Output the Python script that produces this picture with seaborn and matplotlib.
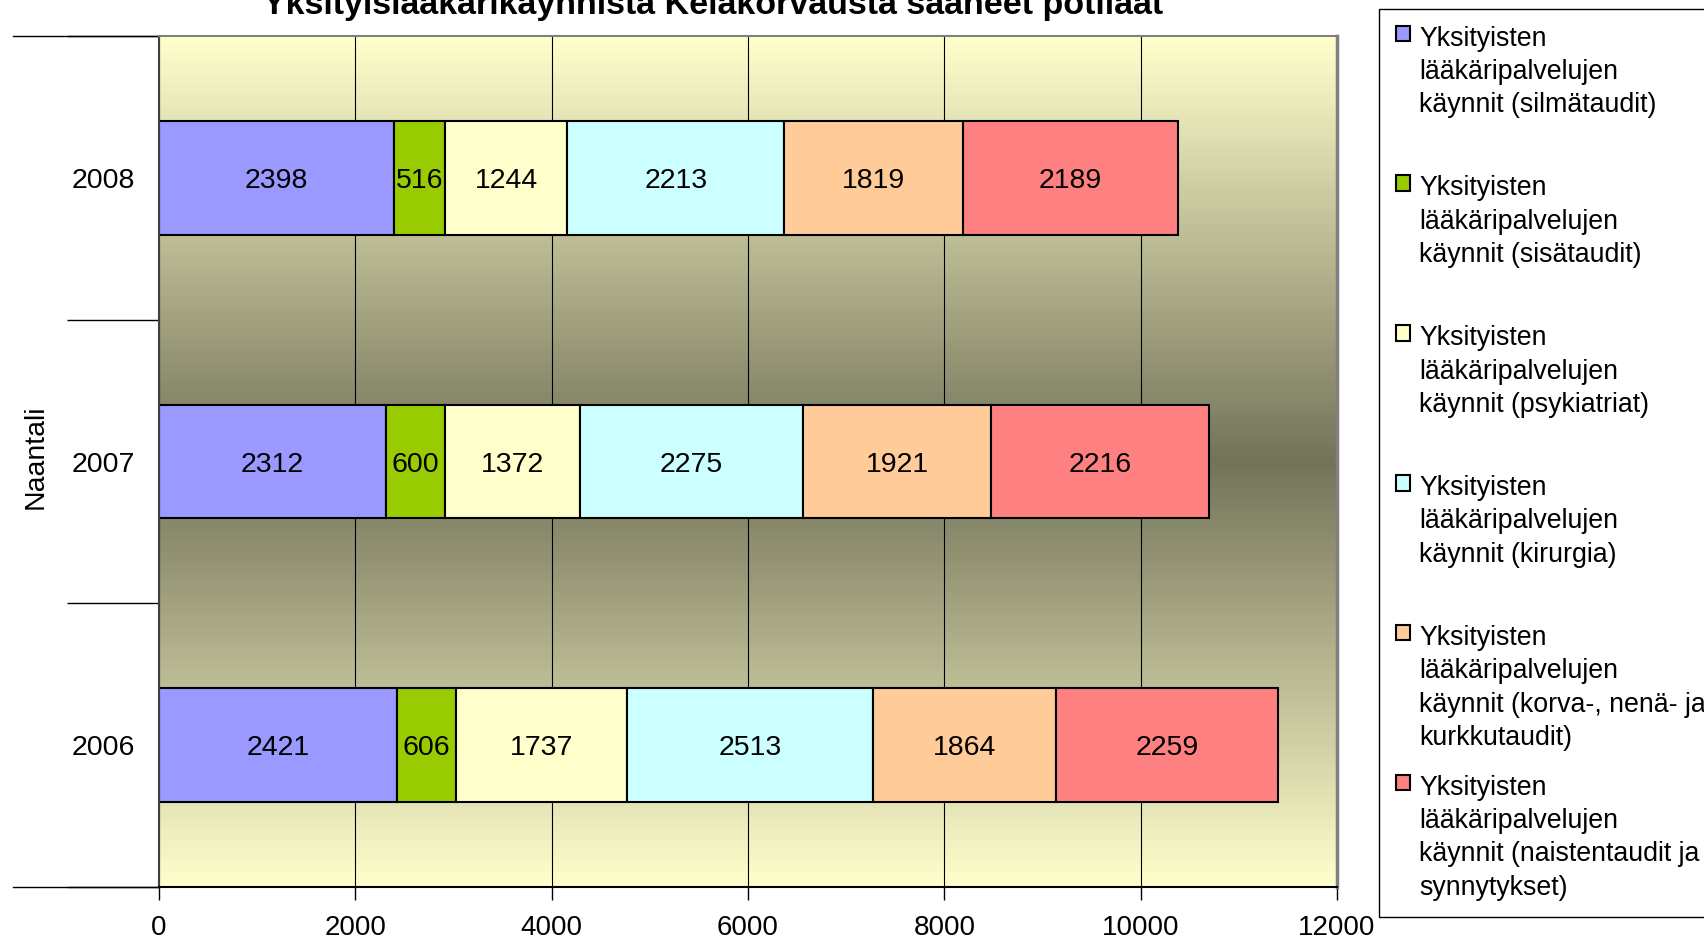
# Pinottu vaakapylväskaavio: Kela-korvatut yksityislääkärikäynnit, Naantali

import matplotlib
matplotlib.use("Agg")
import matplotlib.pyplot as plt
import numpy as np
import seaborn as sns
from matplotlib.colors import LinearSegmentedColormap

years = ["2008", "2007", "2006"]
group_label = "Naantali"
title = "Yksityislääkärikäynnistä Kelakorvausta saaneet potilaat"

series_names = [
    "Yksityisten\nlääkäripalvelujen\nkäynnit (silmätaudit)\n",
    "Yksityisten\nlääkäripalvelujen\nkäynnit (sisätaudit)\n",
    "Yksityisten\nlääkäripalvelujen\nkäynnit (psykiatriat)\n",
    "Yksityisten\nlääkäripalvelujen\nkäynnit (kirurgia)\n",
    "Yksityisten\nlääkäripalvelujen\nkäynnit (korva-, nenä- ja\nkurkkutaudit)",
    "Yksityisten\nlääkäripalvelujen\nkäynnit (naistentaudit ja\nsynnytykset)",
]
silmataudit = [2398, 2312, 2421]
sisataudit = [516, 600, 606]
psykiatriat = [1244, 1372, 1737]
kirurgia = [2213, 2275, 2513]
korva_nena_kurkku = [1819, 1921, 1864]
naistentaudit = [2189, 2216, 2259]
series_values = [silmataudit, sisataudit, psykiatriat, kirurgia, korva_nena_kurkku, naistentaudit]
colors = ["#9999FF", "#99CC00", "#FFFFCC", "#CCFFFF", "#FFCC99", "#FF8080"]
x_ticks = [0, 2000, 4000, 6000, 8000, 10000, 12000]

plt.rcParams['font.family'] = ['Liberation Sans', 'DejaVu Sans']
FS = 20.5      # vuodet, arvot
FS_X = 20      # x-akselin luvut
FS_LEG = 19.3  # selite

W, H = 1704, 942
fig = plt.figure(figsize=(W / 100, H / 100), dpi=100)
ax = fig.add_axes([159 / W, 1 - 887 / H, 1178 / W, 851 / H])

# pinotut pylväät
left = np.zeros(len(years))
for name, vals, c in zip(series_names, series_values, colors):
    sns.barplot(x=vals, y=years, order=years, orient="h", left=left, color=c,
                saturation=1, edgecolor="black", linewidth=1.5, width=0.4,
                errorbar=None, label=name, ax=ax, zorder=2)
    texts = ax.bar_label(ax.containers[-1], labels=[str(v) for v in vals],
                         label_type="center", fontsize=FS, color="black")
    for t in texts:
        t.set_va("center_baseline")
    left = left + np.array(vals)

# liukuväritausta (keltainen reunoilla, tumma keskellä)
bg = LinearSegmentedColormap.from_list("bg", ["#FFFFCC", "#737359", "#FFFFCC"])
ax.imshow(np.linspace(0, 1, 256).reshape(-1, 1), cmap=bg, extent=[0, 1, 0, 1],
          transform=ax.transAxes, aspect="auto", zorder=0, interpolation="bilinear")

ax.set_xlim(x_ticks[0], x_ticks[-1])
ax.set_ylim(len(years) - 0.5, -0.5)

ax.set_xticks(x_ticks)
ax.set_xticklabels([str(t) for t in x_ticks])
ax.xaxis.grid(True, color="black", linewidth=0.8)
ax.tick_params(axis="x", length=9, width=1, pad=11, labelsize=FS_X, color="black")

# kategoria-akseli: vuodet + rajat
ax.tick_params(axis="y", which="major", length=0, pad=17, labelsize=FS)
bounds = np.arange(len(years) + 1) - 0.5
ax.set_yticks(bounds, minor=True)
ax.tick_params(axis="y", which="minor", length=66, width=1, color="black")
for b in (bounds[0], bounds[-1]):
    ax.axhline(b, xmin=-0.124, xmax=0, clip_on=False, color="black", lw=1)

ax.set_xlabel("")
ax.set_ylabel(group_label, fontsize=FS)
ax.yaxis.set_label_coords(-0.094, 0.505)

ax.spines["top"].set_color("#808080")
ax.spines["top"].set_linewidth(1.5)
ax.spines["right"].set_color("#808080")
ax.spines["right"].set_linewidth(2.5)
ax.spines["left"].set_color("#404040")
ax.spines["left"].set_linewidth(1.5)
ax.spines["bottom"].set_color("black")
ax.spines["bottom"].set_linewidth(1.5)

fig.text(713 / W, 1 - 14 / H, title, ha="center", va="baseline",
         fontsize=24.5, fontweight="bold")

leg = ax.legend(handles=ax.containers, labels=series_names, loc="upper left",
                bbox_to_anchor=(1379 / W, 1 - 9 / H), bbox_transform=fig.transFigure,
                borderaxespad=0, fontsize=FS_LEG, frameon=True, fancybox=False,
                edgecolor="black", framealpha=1, handlelength=0.52, handleheight=0.52,
                handletextpad=0.36, borderpad=0.62, labelspacing=0.88)
leg.get_frame().set_linewidth(1.0)
for t in leg.get_texts():
    t.set_linespacing(1.37)
for col in leg._legend_handle_box.get_children():
    for item in col.get_children():
        item.align = "top"

fig.savefig("out.png", dpi=100)
